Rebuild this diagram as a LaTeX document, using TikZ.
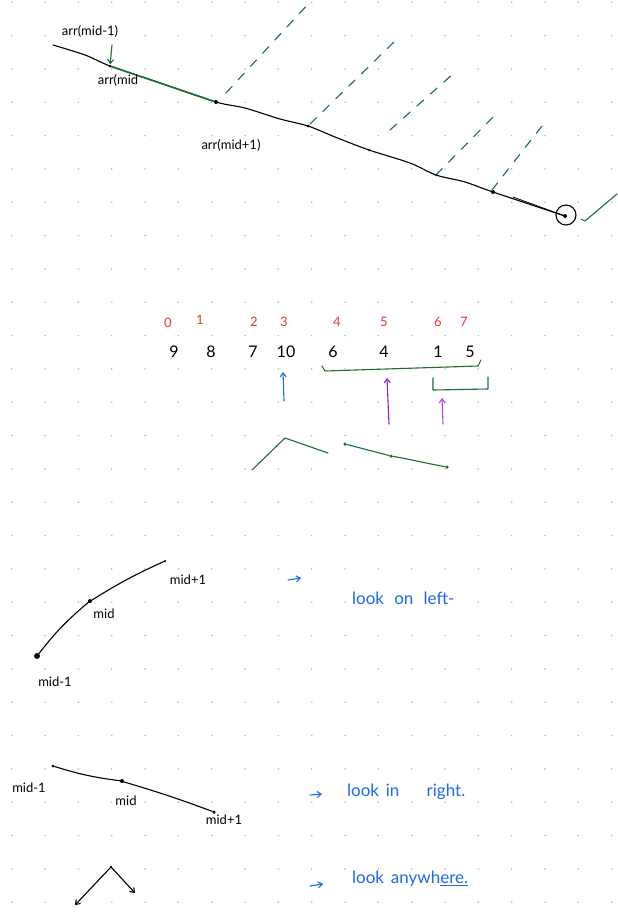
\documentclass[tikz,border=0pt]{standalone}
\usepackage{fontspec}
\setmainfont{Lato}
\usetikzlibrary{arrows.meta}
\definecolor{gridc}{RGB}{170,185,220}
\definecolor{gr}{RGB}{30,110,50}
\definecolor{rd}{RGB}{232,56,42}
\definecolor{bl}{RGB}{30,105,240}
\definecolor{pu}{RGB}{140,30,210}
\tikzset{
  ink/.style={line width=1.1pt, line cap=round, line join=round},
  greenink/.style={ink, draw=gr},
  gdash/.style={greenink, dash pattern=on 9pt off 9pt},
  pt/.style={circle, fill=black, inner sep=0pt, minimum size=4pt},
  gpt/.style={circle, fill=gr, inner sep=0pt, minimum size=4pt},
  lab/.style={font=\fontsize{13}{15}\selectfont, inner sep=0pt},
  idx/.style={font=\fontsize{13}{15}\selectfont, text=rd, inner sep=0pt},
  val/.style={font=\fontsize{16}{18}\selectfont, inner sep=0pt},
  note/.style={font=\fontsize{17}{19}\selectfont, text=bl, inner sep=0pt, anchor=west},
  tip/.style={-{Straight Barb[length=4pt,width=6pt]}}
}
\begin{document}
\begin{tikzpicture}[x=1pt,y=-1pt]
\fill[white] (0,0) rectangle (618,913);
\useasboundingbox (0,0) rectangle (618,913);
\foreach \i in {0,...,18}
  \foreach \j in {0,...,27}
    \fill[gridc] (11.7+33.33*\i, 2.3+33.33*\j) circle (0.9);

% ---------- top section ----------
\coordinate (a0) at (53,45);
\coordinate (a1) at (85,55);
\node[pt, minimum size=3pt] (m0) at (110,66) {};
\coordinate (a2) at (160,83);
\node[pt] (m1) at (216,102) {};
\coordinate (a3) at (245,108);
\coordinate (a4) at (280,119);
\node[pt, minimum size=3pt] (m2) at (308,126) {};
\coordinate (a5) at (335,137);
\node[gpt, minimum size=3pt] (m3) at (369,150) {};
\coordinate (a6) at (410,163);
\node[gpt, minimum size=3pt] (m4) at (436,175) {};
\coordinate (a7) at (465,182);
\node[pt] (m5) at (493,192) {};
\node[pt] (m6) at (565,216) {};
\draw[ink] plot[smooth, tension=0.5] coordinates {(a0) (a1) (m0) (a2) (m1) (a3) (a4) (m2) (a5) (m3) (a6) (m4) (a7) (m5) (m6)};
\draw[ink, line width=0.8pt] (m5) ++(20,5) -- (m6);
\node[draw, circle, line width=1.1pt, minimum size=20pt, inner sep=0pt] (c6) at (566,215) {};
\draw[greenink, line width=1.6pt] (m0) -- (m1);

\node[lab] (l1) at (90,31) {arr(mid-1)};
\node[lab] (l2) at (118,80) {arr(mid};
\node[lab] (l3) at (231,145) {arr(mid+1)};
\coordinate (g0) at (112,45);
\draw[greenink, tip] (g0) -- (m0);

% dashed green lines
\coordinate (d1a) at (226,93);  \coordinate (d1b) at (310,2);
\coordinate (d2a) at (310,124); \coordinate (d2b) at (394,42);
\coordinate (d3a) at (390,130); \coordinate (d3b) at (454,73);
\coordinate (d4a) at (436,175); \coordinate (d4b) at (498,112);
\coordinate (d5a) at (492,190); \coordinate (d5b) at (542,126);
\draw[gdash] (d1a) -- (d1b);
\draw[gdash] (d2a) -- (d2b);
\draw[gdash] (d3a) -- (d3b);
\draw[gdash] (d4a) -- (d4b);
\draw[gdash] (d5a) -- (d5b);
\coordinate (ck0) at (581,219); \coordinate (ck1) at (585,221); \coordinate (ck2) at (617,194);
\draw[greenink] (ck0) -- (ck1) -- (ck2);

% ---------- array section ----------
\foreach \x/\t/\y [count=\k from 0] in {168/0/323, 200/1/320, 254/2/322, 284/3/322, 337/4/322, 384/5/322, 438/6/322, 464/7/322}
  \node[idx] (i\k) at (\x,\y) {\t};
\foreach \x/\t [count=\k from 0] in {174/9, 211/8, 253/7, 286/10, 333/6, 384/4, 438/1, 470/5}
  \node[val] (v\k) at (\x,352) {\t};

\coordinate (b1) at (322,366); \coordinate (b2) at (325,371);
\coordinate (b3) at (478,366); \coordinate (b4) at (481,360);
\draw[greenink] (b1) -- (b2) -- (b3) -- (b4);
\coordinate (c1) at (433,378); \coordinate (c2) at (433,390);
\coordinate (c3) at (488,389); \coordinate (c4) at (488,377);
\draw[greenink] (c1) -- (c2) -- (c3) -- (c4);

\coordinate (ba) at (284,401); \coordinate (bb) at (283,372);
\draw[ink, draw=bl, tip] (ba) -- (bb);
\coordinate (pa) at (389,424); \coordinate (pb) at (387,378);
\draw[ink, draw=pu, tip] (pa) -- (pb);
\coordinate (qa) at (443,424); \coordinate (qb) at (442,398);
\draw[ink, draw=pu!80, tip] (qa) -- (qb);

\coordinate (k1) at (252,470); \coordinate (k2) at (285,438); \coordinate (k3) at (328,453);
\draw[greenink] (k1) -- (k2) -- (k3);
\node[gpt, minimum size=3.5pt] (s1) at (345,444) {};
\node[gpt, minimum size=3.5pt] (s2) at (391,456) {};
\node[gpt, minimum size=3.5pt] (s3) at (447,467) {};
\draw[greenink] (s1) -- (s2) to[out=-10,in=170] (s3);

% ---------- case: look on left ----------
\node[draw, circle, fill=black, line width=0.8pt, inner sep=0pt, minimum size=5pt] (e0) at (37,656) {};
\node[pt] (e1) at (90,601) {};
\node[pt, minimum size=2.5pt] (e2) at (165,561) {};
\draw[ink] (e0) to[bend left=6] (e1) to[bend left=4] (e2);
\node[lab] (el0) at (55,682) {mid-1};
\node[lab] (el1) at (104,614) {mid};
\node[lab] (el2) at (188,580) {mid+1};
\coordinate (r1a) at (288,580); \coordinate (r1b) at (301,578);
\draw[ink, draw=bl, tip] (r1a) -- (r1b);
\node[note] (n1) at (352,598) {look\hspace{0.6em}on\hspace{0.6em}left-};

% ---------- case: look in right ----------
\node[pt, minimum size=3pt] (f0) at (53,766) {};
\node[pt] (f1) at (122,781) {};
\node[pt, minimum size=3.5pt] (f2) at (214,812) {};
\draw[ink] (f0) to[bend right=5] (f1) to[bend left=2] (f2);
\node[lab] (fl0) at (29,788) {mid-1};
\node[lab] (fl1) at (126,801) {mid};
\node[lab] (fl2) at (224,820) {mid+1};
\coordinate (r2a) at (310,795); \coordinate (r2b) at (322,794);
\draw[ink, draw=bl, tip] (r2a) -- (r2b);
\node[note] (n2) at (347,792) {look\hspace{0.4em}in\hspace{1.6em}right.};

% ---------- case: look anywhere ----------
\node[pt, minimum size=3pt] (h1) at (111,867) {};
\coordinate (h0) at (75,905);
\coordinate (h2) at (135,893);
\draw[ink, tip] (h1) -- (h0);
\draw[ink, tip] (h1) -- (h2);
\coordinate (r3a) at (310,886); \coordinate (r3b) at (323,884);
\draw[ink, draw=bl, tip] (r3a) -- (r3b);
\node[note] (n3) at (352,879) {look\hspace{0.4em}anywh\underline{ere.}};
\end{tikzpicture}
\end{document}
